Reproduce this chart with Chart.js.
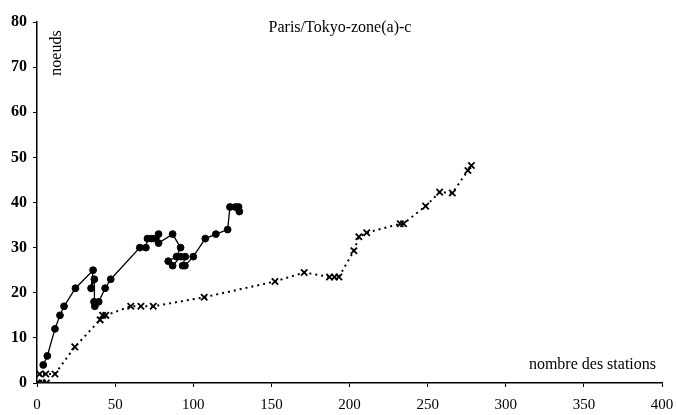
<!DOCTYPE html>
<html>
<head>
<meta charset="utf-8">
<script src="https://cdn.jsdelivr.net/npm/chart.js@4/dist/chart.umd.min.js"></script>
<style>
html,body{margin:0;padding:0;background:#fff;}
#wrap{width:677px;height:415px;position:relative;}
</style>
</head>
<body>
<div id="wrap"><canvas id="c" width="677" height="415"></canvas></div>
<script>
const chartTitle = "Paris/Tokyo-zone(a)-c";
const yAxisTitle = "noeuds";
const xAxisTitle = "nombre des stations";
const xTicks = [0, 50, 100, 150, 200, 250, 300, 350, 400];
const yTicks = [0, 10, 20, 30, 40, 50, 60, 70, 80];

// solid line, filled circles
const solidX = [4, 6.6, 11.5, 14.7, 17.3, 24.6, 35.9, 34.6, 36.7, 36.5, 37, 39.5, 43.6, 47.2, 65.8, 69.7, 70.7, 73.3, 76, 77.8, 77.8, 86.8, 91.9, 89.3, 84, 86.8, 92, 94.9, 93.2, 94.7, 100, 107.7, 114.5, 122, 123.5, 127, 129, 129.5];
const solidY = [4, 6, 12, 15, 17, 21, 25, 21, 23, 18, 17, 18, 21, 23, 30, 30, 32, 32, 32, 33, 31, 33, 30, 28, 27, 26, 28, 28, 26, 26, 28, 32, 33, 34, 39, 39, 39, 38];

// dotted line, crosses
const dotX = [0, 1, 3.4, 6, 1.7, 5.6, 11.5, 24.2, 40.4, 42, 44, 60, 66.5, 74.4, 107, 152.3, 171, 187.2, 190.4, 193.2, 202.8, 206, 211, 232.5, 234.6, 248.7, 257.7, 265.8, 275.8, 278];
const dotY = [0, 0, 0, 0, 2, 2, 2, 8, 14, 15, 15, 17, 17, 17, 19, 22.5, 24.5, 23.5, 23.5, 23.5, 29.3, 32.4, 33.3, 35.3, 35.3, 39.2, 42.3, 42.1, 47.1, 48.2];

const solidData = solidX.map((x, i) => ({x: x, y: solidY[i]}));
const dotData = dotX.map((x, i) => ({x: x, y: dotY[i]}));

const serif = "'Liberation Serif', 'Times New Roman', serif";

const textPlugin = {
  id: 'texts',
  afterDraw(chart) {
    const ctx = chart.ctx;
    ctx.save();
    ctx.fillStyle = '#000';
    ctx.font = "16px " + serif;
    ctx.textBaseline = 'alphabetic';
    ctx.textAlign = 'center';
    ctx.fillText(chartTitle, 340, 32);
    ctx.textAlign = 'right';
    ctx.fillText(xAxisTitle, 656, 369);
    ctx.translate(61, 53);
    ctx.rotate(-Math.PI / 2);
    ctx.textAlign = 'center';
    ctx.fillText(yAxisTitle, 0, 0);
    ctx.restore();
  }
};

new Chart(document.getElementById('c'), {
  type: 'scatter',
  data: {
    datasets: [
      {
        data: solidData,
        showLine: true,
        borderColor: '#000',
        backgroundColor: '#000',
        borderWidth: 1.3,
        pointRadius: 3.4,
        pointStyle: 'circle',
        pointBorderWidth: 1,
        tension: 0
      },
      {
        data: dotData,
        showLine: true,
        borderColor: '#000',
        backgroundColor: '#000',
        borderWidth: 2,
        borderDash: [2, 4],
        pointRadius: 4.5,
        pointStyle: 'crossRot',
        pointBorderWidth: 1.8,
        tension: 0
      }
    ]
  },
  options: {
    responsive: false,
    animation: false,
    devicePixelRatio: 1,
    layout: {padding: {top: 22, right: 15, left: 0, bottom: 0}},
    plugins: {legend: {display: false}, tooltip: {enabled: false}, title: {display: false}},
    scales: {
      x: {
        type: 'linear', min: 0, max: 400,
        afterBuildTicks: (s) => { s.ticks = xTicks.map(v => ({value: v})); },
        afterFit: (s) => { s.height = 32; s.paddingRight = 0; s.paddingLeft = 0; },
        ticks: {color: '#000', font: {family: serif, size: 15}, padding: 9, maxRotation: 0},
        grid: {display: true, drawOnChartArea: false, drawTicks: true, tickLength: 4, color: '#000', lineWidth: 1},
        border: {display: true, color: '#000', width: 1.5}
      },
      y: {
        type: 'linear', min: 0, max: 80,
        afterBuildTicks: (s) => { s.ticks = yTicks.map(v => ({value: v})); },
        afterFit: (s) => { s.width = 37; },
        ticks: {color: '#000', font: {family: serif, size: 16, weight: 'bold'}, padding: 6},
        grid: {display: true, drawOnChartArea: false, drawTicks: true, tickLength: 4, color: '#000', lineWidth: 1},
        border: {display: true, color: '#000', width: 1.5}
      }
    }
  },
  plugins: [textPlugin]
});
</script>
</body>
</html>
